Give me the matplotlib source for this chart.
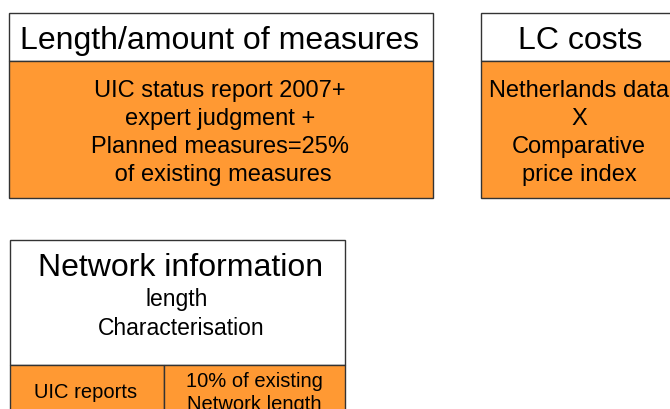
import matplotlib.pyplot as plt
from matplotlib.patches import Rectangle

# Box texts
titles = ['Length/amount of measures', 'LC costs', 'Network information']
body_measures = ['UIC status report 2007+', 'expert judgment +',
                 'Planned measures=25%', ' of existing measures']
body_costs = ['Netherlands data', 'X', 'Comparative', 'price index']
network_sub = ['length', 'Characterisation']
network_cells = ['UIC reports', '10% of existing', 'Network length']

orange = '#FF9933'
plt.rcParams['font.family'] = ['Liberation Sans', 'DejaVu Sans']

fig = plt.figure(figsize=(6.7, 4.1), dpi=100)
ax = fig.add_axes([0, 0, 1, 1])
ax.set_xlim(0, 670)
ax.set_ylim(410, 0)
ax.axis('off')

def box(x0, y0, w, h, color):
    ax.add_patch(Rectangle((x0, y0), w, h, facecolor=color,
                           edgecolor='#333333', linewidth=1.0))

# Length/amount of measures
box(8.5, 13.5, 424, 48, 'white')
box(8.5, 61.5, 424, 137, orange)
ax.text(220, 41, titles[0], ha='center', va='center', fontsize=23)
for i, line in enumerate(body_measures):
    ax.text(220, 91 + 28 * i, line, ha='center', va='center', fontsize=17)

# LC costs
box(480.5, 13.5, 198, 48, 'white')
box(480.5, 61.5, 198, 137, orange)
ax.text(580, 41, titles[1], ha='center', va='center', fontsize=23)
for i, line in enumerate(body_costs):
    ax.text(579, 91 + 28 * i, line, ha='center', va='center', fontsize=17)

# Network information
box(9.5, 240.5, 335, 125, 'white')
box(9.5, 365.5, 154, 60, orange)
box(163.5, 365.5, 181, 60, orange)
ax.text(181, 268, titles[2], ha='center', va='center', fontsize=23)
ax.text(177, 300, network_sub[0], ha='center', va='center', fontsize=16.5)
ax.text(181, 329, network_sub[1], ha='center', va='center', fontsize=16.5)
ax.text(86, 393, network_cells[0], ha='center', va='center', fontsize=14.5)
ax.text(254, 382, network_cells[1], ha='center', va='center', fontsize=14.5)
ax.text(254, 405, network_cells[2], ha='center', va='center', fontsize=14.5)

fig.savefig('out.png', dpi=100)
